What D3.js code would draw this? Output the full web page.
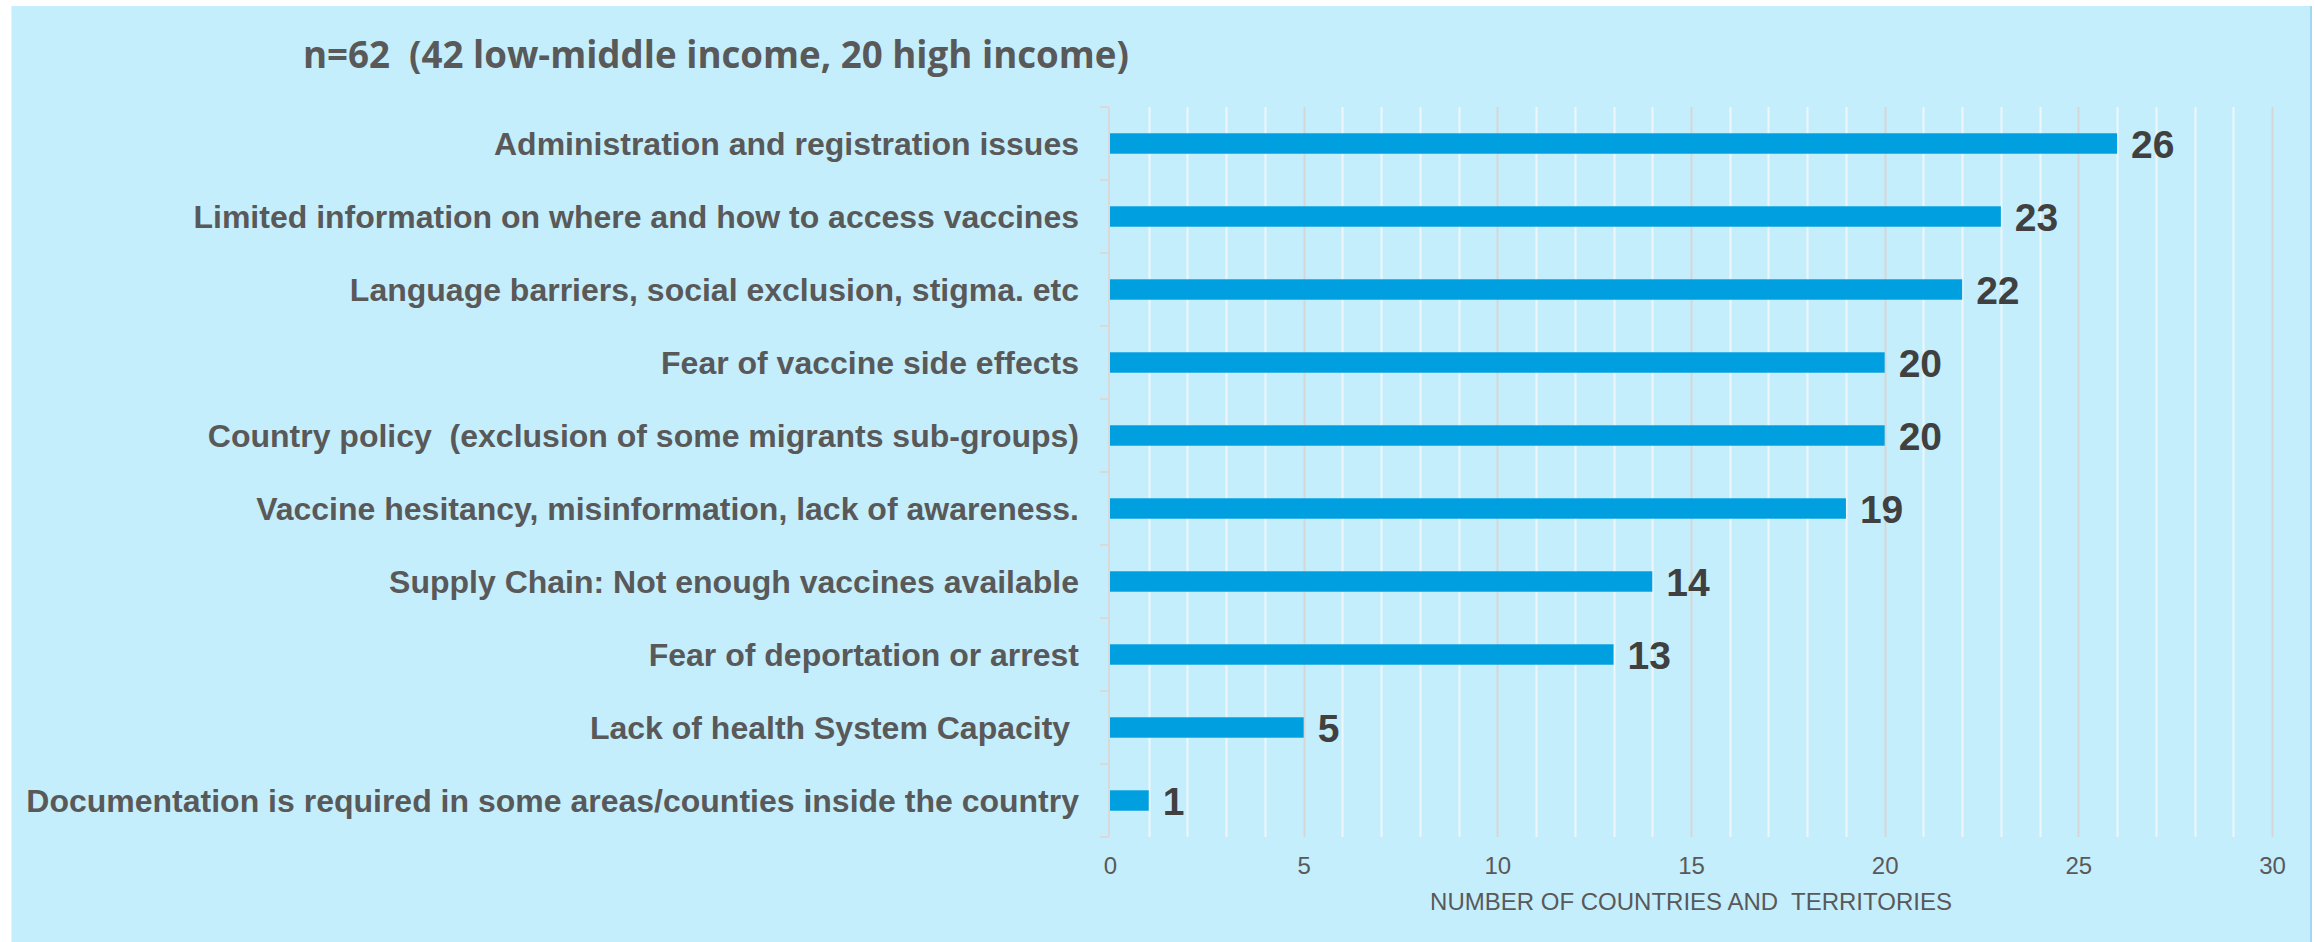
<!DOCTYPE html>
<html>
<head>
<meta charset="utf-8">
<script src="https://cdn.jsdelivr.net/npm/d3@7"></script>
<style>
  html, body { margin: 0; padding: 0; background: #fff; }
  svg { display: block; }
  svg text { white-space: pre; }
</style>
</head>
<body>
<svg id="chart"></svg>
<script>
// chart values
const categories = [
  "Administration and registration issues",
  "Limited information on where and how to access vaccines",
  "Language barriers, social exclusion, stigma. etc",
  "Fear of vaccine side effects",
  "Country policy  (exclusion of some migrants sub-groups)",
  "Vaccine hesitancy, misinformation, lack of awareness.",
  "Supply Chain: Not enough vaccines available",
  "Fear of deportation or arrest",
  "Lack of health System Capacity ",
  "Documentation is required in some areas/counties inside the country"
];
const counts = [26, 23, 22, 20, 20, 19, 14, 13, 5, 1];
const xTicks = [0, 5, 10, 15, 20, 25, 30];
const titleText = "n=62  (42 low-middle income, 20 high income)";
const axisTitle = "NUMBER OF COUNTRIES AND  TERRITORIES";

const width = 2315, height = 942;
const margin = {top: 107, right: 43, bottom: 105, left: 1110};
const font = "'Liberation Sans', Arial, sans-serif";

const svg = d3.select("#chart")
    .attr("width", width)
    .attr("height", height);

// panel background
svg.append("rect")
    .attr("x", 11).attr("y", 6)
    .attr("width", 2301).attr("height", 940)
    .attr("fill", "#c5eefd");
svg.append("line")
    .attr("x1", 2311).attr("x2", 2311).attr("y1", 6).attr("y2", height)
    .attr("stroke", "#9fd8f0").attr("stroke-width", 2);
svg.append("line")
    .attr("x1", 11.5).attr("x2", 11.5).attr("y1", 6).attr("y2", height)
    .attr("stroke", "#dff5fd").attr("stroke-width", 1);

const x = d3.scaleLinear()
    .domain([0, 30])
    .range([margin.left, width - margin.right]);

const y = d3.scaleBand()
    .domain(categories)
    .range([margin.top, height - margin.bottom])
    .paddingInner(0.72)
    .paddingOuter(0.36);

// gridlines, one per unit, majors every 5
const grid = svg.append("g").attr("class", "grid");
grid.selectAll("line")
  .data(d3.range(1, 31))
  .enter().append("line")
    .attr("x1", d => Math.round(x(d)) + 0.5)
    .attr("x2", d => Math.round(x(d)) + 0.5)
    .attr("y1", margin.top)
    .attr("y2", height - margin.bottom)
    .attr("stroke", d => d % 5 == 0 ? "#d6d6d6" : "#eef6fa")
    .attr("stroke-width", 2);

// y axis line with ticks at band boundaries
const yAxis = svg.append("g").attr("class", "y-axis");
yAxis.append("line")
    .attr("x1", margin.left - 1).attr("x2", margin.left - 1)
    .attr("y1", margin.top).attr("y2", height - margin.bottom)
    .attr("stroke", "#d9d9d9").attr("stroke-width", 2);
yAxis.selectAll("line.tick")
  .data(d3.range(categories.length + 1))
  .enter().append("line")
    .attr("class", "tick")
    .attr("x1", margin.left - 10).attr("x2", margin.left - 1)
    .attr("y1", i => margin.top + i * y.step())
    .attr("y2", i => margin.top + i * y.step())
    .attr("stroke", "#d9d9d9").attr("stroke-width", 2);

yAxis.selectAll("text")
  .data(categories)
  .enter().append("text")
    .attr("x", margin.left - 31)
    .attr("y", d => y(d) + y.bandwidth() / 2)
    .attr("dy", "0.35em")
    .attr("text-anchor", "end")
    .attr("font-family", font)
    .attr("font-weight", "bold")
    .attr("font-size", 32)
    .attr("fill", "#595959")
    .text(d => d);

// bars
svg.append("g").attr("class", "bars")
  .selectAll("rect")
  .data(counts)
  .enter().append("rect")
    .attr("x", x(0))
    .attr("y", (d, i) => y(categories[i]))
    .attr("width", d => x(d) - x(0))
    .attr("height", y.bandwidth())
    .attr("fill", "#009fe0");

// value labels
svg.append("g").attr("class", "values")
  .selectAll("text")
  .data(counts)
  .enter().append("text")
    .attr("x", d => x(d) + 14)
    .attr("y", (d, i) => y(categories[i]) + y.bandwidth() / 2)
    .attr("dy", "0.36em")
    .attr("font-family", font)
    .attr("font-weight", "bold")
    .attr("font-size", 39)
    .attr("fill", "#404040")
    .text(d => d);

// x axis tick labels
const xAxis = svg.append("g")
    .attr("transform", `translate(0,${height - margin.bottom})`)
    .call(d3.axisBottom(x).tickValues(xTicks).tickSize(0).tickPadding(20));
xAxis.select(".domain").remove();
xAxis.selectAll("text")
    .attr("font-family", font)
    .attr("font-size", 24)
    .attr("fill", "#595959");

svg.append("text")
    .attr("x", (x(0) + x(30)) / 2)
    .attr("y", 910)
    .attr("text-anchor", "middle")
    .attr("font-family", font)
    .attr("font-size", 24)
    .attr("fill", "#595959")
    .text(axisTitle);

// title
svg.append("text")
    .attr("x", 303)
    .attr("y", 55)
    .attr("dy", "0.35em")
    .attr("font-family", "'Open Sans', sans-serif")
    .attr("font-weight", "bold")
    .attr("font-size", 36.7)
    .attr("fill", "#595959")
    .text(titleText);
</script>
</body>
</html>
